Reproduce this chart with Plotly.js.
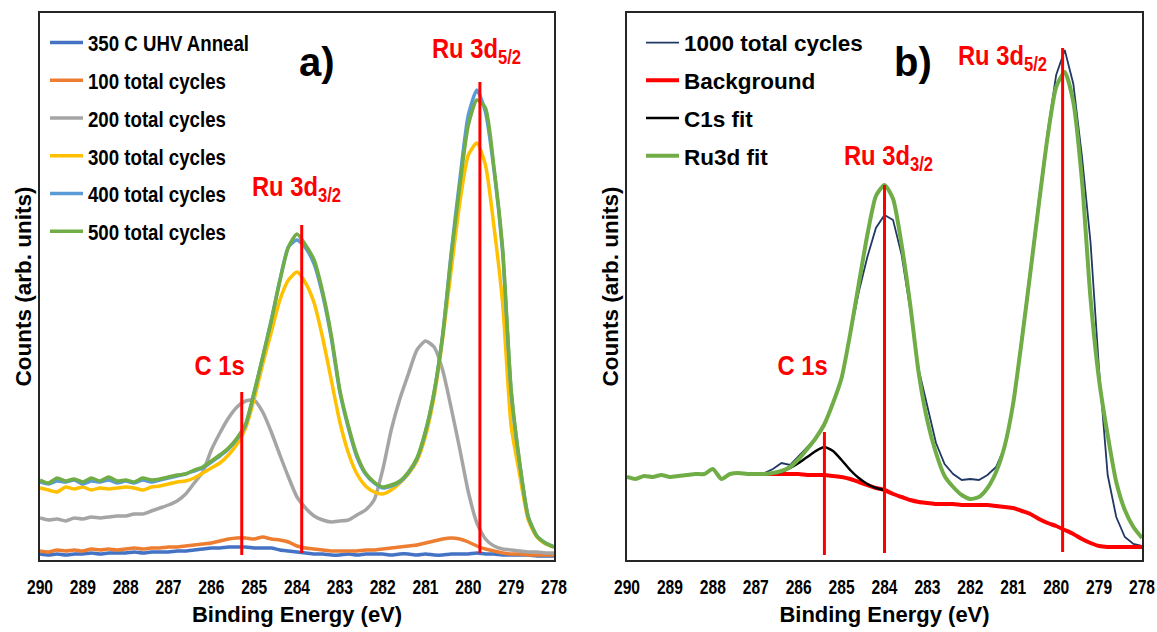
<!DOCTYPE html>
<html>
<head>
<meta charset="utf-8">
<script src="https://cdn.plot.ly/plotly-3.0.1.min.js"></script>
<style>
  html, body { margin: 0; padding: 0; background: #fff; }
  #chart { width: 1157px; height: 632px; }
</style>
</head>
<body>
<div id="chart"></div>
<script>
// Binding energy grid (eV), shared by every spectrum on both panels
const energy = [290.0,289.8,289.6,289.4,289.2,289.0,288.8,288.6,288.4,288.2,
                288.0,287.8,287.6,287.4,287.2,287.0,286.8,286.6,286.4,286.2,
                286.0,285.8,285.6,285.4,285.2,285.0,284.8,284.6,284.4,284.2,
                284.0,283.8,283.6,283.4,283.2,283.0,282.8,282.6,282.4,282.2,
                282.0,281.8,281.6,281.4,281.2,281.0,280.8,280.6,280.4,280.2,
                280.0,279.8,279.6,279.4,279.2,279.0,278.8,278.6,278.4,278.2,
                278.0];

// Panel a) spectra (counts, arb. units)
const anneal350 = [6,5,6,5,6,6,7,6,7,7, 7,8,7,8,8,8,9,9,10,11, 12,12,13,13,13,12,12,12,10,9,
                   8,7,6,6,5,5,6,5,6,6, 6,5,6,6,5,6,5,5,6,6, 6,7,6,6,5,5,5,5,4,4, 4];
const cycles100 = [9,8,10,9,10,9,11,10,11,10, 11,12,11,12,12,13,13,14,15,16, 17,19,21,22,22,21,23,21,20,18,
                   14,12,11,10,9,9,9,9,10,10, 11,12,13,14,15,17,19,21,22,21, 18,14,11,9,7,6,6,5,5,5, 5];
const cycles200 = [42,40,41,39,42,41,43,42,43,44, 44,46,46,49,52,55,59,66,77,88, 110,127,142,153,159,160,148,128,105,83,
                   63,52,44,40,38,39,40,45,50,60, 90,130,161,186,210,219,213,190,152,111, 68,37,21,14,11,10,9,8,8,7, 7];
const cycles300 = [72,70,68,73,71,73,70,72,71,72, 73,72,70,73,74,76,78,79,82,87, 92,97,105,116,132,161,196,228,260,280,
                   288,277,257,222,180,138,107,86,74,68, 66,70,77,86,99,124,163,221,290,357, 405,417,395,333,257,134,85,40,23,16, 13];
const cycles400 = [78,76,79,78,80,76,79,78,80,77, 79,77,80,78,80,82,84,86,89,92, 98,104,111,121,135,167,203,240,280,313,
                   320,312,296,265,222,168,132,103,86,77, 72,74,78,87,101,128,167,225,307,380, 445,470,448,390,308,168,96,43,24,17, 13];
const cycles500 = [80,77,82,79,81,78,82,79,83,79, 80,78,82,80,81,83,85,86,90,93, 99,105,112,122,136,168,203,239,279,313,
                   326,315,300,268,225,170,134,105,87,78, 73,75,79,88,102,129,168,224,304,374, 435,460,452,392,312,170,97,43,24,17, 13];

// Panel b) spectrum and its fit components
const cycles1000 = [83,81,84,83,85,83,84,85,86,86, 91,81,86,87,86,86,87,91,97,95, 104,112,122,134,156,182,224,268,303,332,
                    345,340,305,250,190,155,117,96,86,80, 81,80,85,93,113,157,222,292,362,428, 485,510,476,404,318,190,85,43,23,16, 14];
const ru3dFit = [83,81,84,83,85,83,84,85,86,86, 91,81,86,87,86,86,86,87,89,93, 101,111,122,136,157,182,226,276,325,364,
                 375,361,315,255,186,139,107,84,73,65, 61,63,72,88,114,157,220,288,357,423, 473,488,458,380,262,180,125,78,50,33, 22];
const c1sEnergy = [286.6,286.4,286.2,286.0,285.8,285.6,285.4,285.2,285.0,284.8,284.6,284.4,284.2,284.0];
const c1sFit = [87,88,92,97,103,109,113,109,100,90,82,76,72,70];
const bgEnergy = [287.0,286.8,286.6,286.4,286.2,286.0,285.8,285.6,285.4,285.2,285.0,284.8,284.6,284.4,284.2,284.0,
                  283.8,283.6,283.4,283.2,283.0,282.8,282.6,282.4,282.2,282.0,281.8,281.6,281.4,281.2,281.0,
                  280.8,280.6,280.4,280.2,280.0,279.8,279.6,279.4,279.2,279.0,278.8,278.6,278.4,278.2,278.0];
const background = [86,86,86,86,86,86,85,85,85,84,83,81,78,75,72,70,
                    66,63,60,58,57,56,56,56,55,55,55,55,54,53,52,
                    49,46,41,37,34,30,26,21,17,14,13,13,13,13,13];

// Peak positions marked with vertical lines (eV) and their extent (counts)
const peakEnergyA = [285.29, 283.89, 279.73];
const peakTopA    = [168, 335, 478];
const peakBaseA   = [5, 7, 7];
const peakEnergyB = [285.40, 284.00, 279.85];
const peakTopB    = [128, 375, 512];
const peakBaseB   = [5, 7, 8];

// Axis ticks
const tickEnergies = [290,289,288,287,286,285,284,283,282,281,280,279,278];
const tickLabels = tickEnergies.map(String);

const SANS = "'Liberation Sans', Arial, sans-serif";

function spectrum(name, y, color, width, axes, legend, shape, x) {
  return {
    type: 'scatter', mode: 'lines', name: name,
    x: x || energy, y: y,
    xaxis: axes[0], yaxis: axes[1],
    legend: legend, legendgroup: name,
    line: { color: color, width: width, shape: shape || 'spline', smoothing: 0.6 },
    hoverinfo: 'skip'
  };
}

function peakLines(energies, tops, bases, axes) {
  const x = [], y = [];
  energies.forEach((e, i) => { x.push(e, e, null); y.push(bases[i], tops[i], null); });
  return {
    type: 'scatter', mode: 'lines', x: x, y: y,
    xaxis: axes[0], yaxis: axes[1], showlegend: false,
    line: { color: '#FF0000', width: 3 }, hoverinfo: 'skip'
  };
}

const A = ['x', 'y'], B = ['x2', 'y2'];
const traces = [
  spectrum('350 C UHV Anneal', anneal350, '#4472C4', 3.5, A, 'legend'),
  spectrum('100 total cycles', cycles100, '#ED7D31', 3.5, A, 'legend'),
  spectrum('200 total cycles', cycles200, '#A5A5A5', 3.5, A, 'legend'),
  spectrum('300 total cycles', cycles300, '#FFC000', 3.5, A, 'legend'),
  spectrum('400 total cycles', cycles400, '#5B9BD5', 3.5, A, 'legend'),
  spectrum('500 total cycles', cycles500, '#70AD47', 3.5, A, 'legend'),
  peakLines(peakEnergyA, peakTopA, peakBaseA, A),
  spectrum('1000 total cycles', cycles1000, '#203864', 1.8, B, 'legend2', 'linear'),
  spectrum('Background', background, '#FF0000', 4, B, 'legend2', 'spline', bgEnergy),
  spectrum('C1s fit', c1sFit, '#000000', 2.5, B, 'legend2', 'spline', c1sEnergy),
  spectrum('Ru3d fit', ru3dFit, '#70AD47', 4, B, 'legend2'),
  peakLines(peakEnergyB, peakTopB, peakBaseB, B)
];

function xAxis(domain, anchor) {
  return {
    domain: domain, anchor: anchor, range: [290, 278], autorange: false,
    tickmode: 'array', tickvals: tickEnergies, ticktext: tickLabels,
    ticks: '', ticklabelstandoff: 9, ticklabeloverflow: 'allow',
    tickfont: { family: SANS, size: 19.5, color: '#000', weight: 'bold' },
    showgrid: false, zeroline: false, showline: true, mirror: true,
    linecolor: '#262626', linewidth: 2, automargin: false,
    title: { text: 'Binding Energy (eV)', standoff: 9,
             font: { family: SANS, size: 22, color: '#000', weight: 'bold' } }
  };
}
function yAxis(anchor) {
  return {
    domain: [0, 1], anchor: anchor, range: [0, 547], autorange: false,
    showticklabels: false, ticks: '', showgrid: false, zeroline: false,
    showline: true, mirror: true, linecolor: '#262626', linewidth: 2, automargin: false,
    title: { text: 'Counts (arb. units)', standoff: 0,
             font: { family: SANS, size: 22.5, color: '#000', weight: 'bold' } }
  };
}

const legendStyle = (x) => ({
  x: x, y: 0.9845, xanchor: 'left', yanchor: 'top', xref: 'paper', yref: 'paper',
  bgcolor: 'rgba(0,0,0,0)', borderwidth: 0, tracegroupgap: 5.5, itemwidth: 33,
  font: { family: SANS, size: 22.5, color: '#000', weight: 'bold' }
});

const redFont = { family: SANS, size: 28, color: '#FF0000', weight: 'bold' };
const panelFont = { family: SANS, size: 40, color: '#000', weight: 'bold' };
function label(text, x, y, axes, font) {
  return { text: text, x: x, y: y, xref: axes[0], yref: axes[1], showarrow: false,
           xanchor: 'center', yanchor: 'middle', font: font };
}

const layout = {
  width: 1157, height: 632,
  margin: { l: 0, r: 0, t: 13, b: 72 },
  paper_bgcolor: '#fff', plot_bgcolor: '#fff',
  xaxis: xAxis([40 / 1157, 554 / 1157], 'y'),
  yaxis: yAxis('x'),
  xaxis2: xAxis([627 / 1157, 1142 / 1157], 'y2'),
  yaxis2: yAxis('x2'),
  legend: legendStyle(45 / 1157),
  legend2: legendStyle(641 / 1157),
  annotations: [
    label('a)', 283.53, 498, A, panelFont),
    label('Ru 3d<sub>5/2</sub>', 279.82, 510, A, redFont),
    label('Ru 3d<sub>3/2</sub>', 284.02, 372, A, redFont),
    label('C 1s', 285.82, 195, A, redFont),
    label('b)', 283.33, 498, B, panelFont),
    label('Ru 3d<sub>5/2</sub>', 281.24, 503, B, redFont),
    label('Ru 3d<sub>3/2</sub>', 283.91, 403, B, redFont),
    label('C 1s', 285.92, 195, B, redFont)
  ],
  showlegend: true
};

// Narrow-width lettering for legend, tick and peak labels: squeeze each text
// horizontally about its own anchor point.
function condense(elements, s) {
  elements.forEach(el => {
    const x0 = parseFloat(el.getAttribute('x')) || 0;
    const t = el.getAttribute('transform') || '';
    el.setAttribute('transform', t + ' translate(' + x0 + ',0) scale(' + s + ',1) translate(' + (-x0) + ',0)');
  });
}

const gd = document.getElementById('chart');
Plotly.newPlot(gd, traces, layout, { displayModeBar: false }).then(() => {
  condense(gd.querySelectorAll('.xtick text, .x2tick text'), 0.8);
  condense(gd.querySelectorAll('.legendtext'), 0.83);
  const red = Array.from(gd.querySelectorAll('.annotation-text'))
    .filter(el => !/^[ab]\)$/.test(el.textContent.trim()));
  condense(red, 0.85);
});
</script>
</body>
</html>
